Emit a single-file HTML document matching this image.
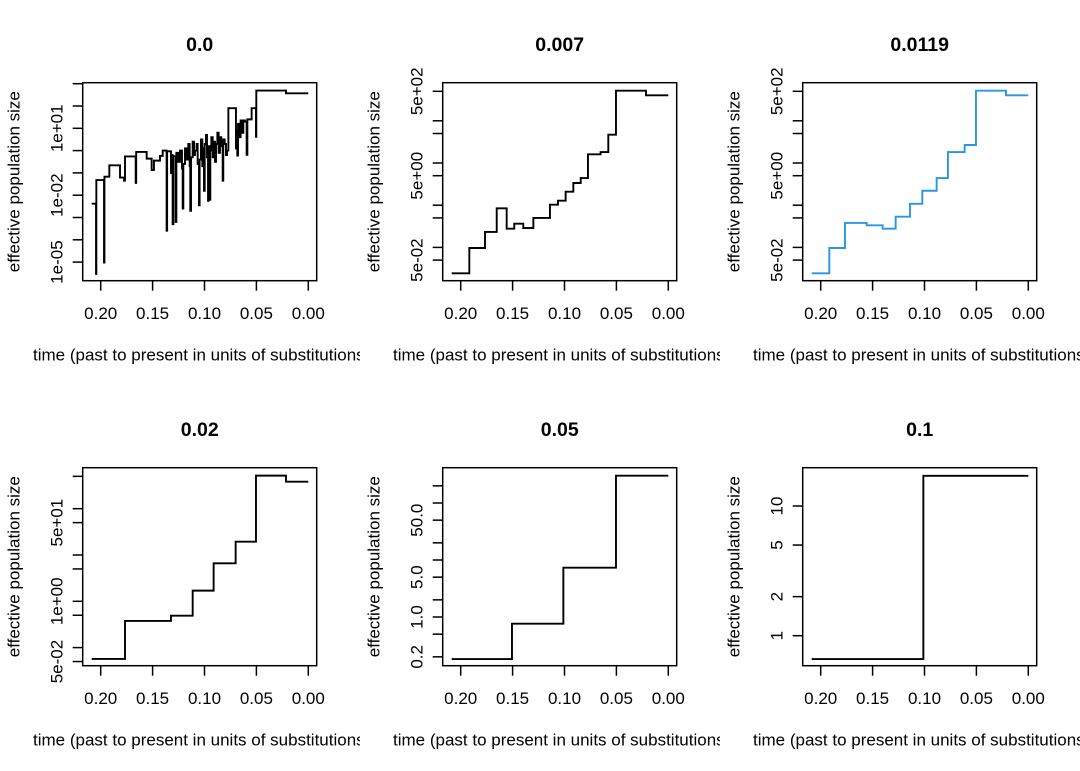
<!DOCTYPE html>
<html><head><meta charset="utf-8"><style>
html,body{margin:0;padding:0;background:#fff;}
svg{display:block;font-family:"Liberation Sans",Arial,sans-serif;}
</style></head><body>
<svg id="chart" width="1080" height="771" viewBox="0 0 1080 771" xmlns="http://www.w3.org/2000/svg">
<defs>
<clipPath id="c0"><rect x="0" y="0" width="360" height="771"/></clipPath>
<clipPath id="c1"><rect x="360" y="0" width="360" height="771"/></clipPath>
<clipPath id="c2"><rect x="720" y="0" width="360" height="771"/></clipPath>
</defs>
</svg>
<script>
// ---- data ----
const panelTitles = ["0.0", "0.007", "0.0119", "0.02", "0.05", "0.1"];
const xTickValues = [0.20, 0.15, 0.10, 0.05, 0.00];
const xTickLabels = ["0.20", "0.15", "0.10", "0.05", "0.00"];

// panel 1: step boundaries (time) and log10 effective population size
const times1 = [0.2087,0.2045,0.2042,0.1968,0.1964,0.1917,0.1814,0.1776,0.1766,0.1663,0.1658,0.1557,0.1509,0.1487,0.1429,0.1403,0.1365,0.1360,0.1323,0.1316,0.1307,0.1300,0.1278,0.1271,0.1252,0.1236,0.1217,0.1210,0.1204,0.1188,0.1172,0.1156,0.1143,0.1137,0.1130,0.1114,0.1101,0.1092,0.1076,0.1066,0.1053,0.1047,0.1034,0.1021,0.1011,0.1005,0.0998,0.0986,0.0976,0.0966,0.0960,0.0950,0.0944,0.0934,0.0921,0.0912,0.0899,0.0889,0.0876,0.0864,0.0851,0.0838,0.0825,0.0819,0.0806,0.0793,0.0783,0.0770,0.0697,0.0690,0.0684,0.0677,0.0665,0.0652,0.0639,0.0626,0.0610,0.0594,0.0587,0.0546,0.0504,0.0501,0.0215,0.0];
const logSize1 = [-2.38,-5.53,-1.32,-5.02,-1.17,-0.66,-1.21,-1.35,-0.26,-1.45,-0.06,-0.36,-0.87,-0.45,-0.24,0.0,-3.59,-0.03,-1.0,-0.2,-3.3,-0.25,-3.2,-0.1,-0.5,0.0,-0.8,-2.6,-0.6,0.1,-0.4,0.3,-0.7,-2.7,-0.3,0.4,-0.2,0.0,0.3,-0.6,-2.45,-0.4,0.5,-0.7,0.1,-1.8,0.3,0.7,-0.3,-2.25,0.2,-2.2,0.0,0.6,-0.3,0.4,-0.5,0.3,0.8,-0.1,0.6,0.2,-1.35,0.5,0.3,-0.2,0.0,1.9,0.1,0.9,-0.22,1.2,0.6,1.35,0.8,1.35,1.3,-0.19,1.4,1.9,0.62,2.69,2.57];

const times2 = [0.2087,0.1917,0.1766,0.1653,0.1557,0.1484,0.1397,0.1300,0.1140,0.1063,0.0989,0.0915,0.0844,0.0774,0.0652,0.0578,0.0504,0.0215,0.0];
const size2  = [0.0243,0.0968,0.232,0.844,0.277,0.365,0.288,0.5,1.03,1.28,2.09,3.36,4.4,16.1,18.2,46.8,517,402];

const times3 = [0.2087,0.1917,0.1766,0.1557,0.1403,0.1278,0.1140,0.1021,0.0883,0.0774,0.0613,0.0504,0.0215,0.0];
const size3  = [0.0243,0.0968,0.379,0.334,0.277,0.533,1.08,2.2,4.4,18.2,26.7,517,402];

const times4 = [0.2087,0.1766,0.1323,0.1114,0.0912,0.0700,0.0504,0.0215,0.0];
const size4  = [0.0568,0.376,0.49,1.70,6.62,19.4,518,384];

const times5 = [0.2087,0.1506,0.1011,0.0504,0.0];
const size5  = [0.183,0.764,7.33,301];

const times6 = [0.2087,0.1011,0.0];
const size6  = [0.661,17.1];

const yTicks1 = [1e-5,1e-4,1e-3,1e-2,1e-1,1,10,100,1000];
const yLabels1 = [[1e-5,"1e-05"],[1e-2,"1e-02"],[10,"1e+01"]];
const yTicks2 = [5e-2,1e-1,5e-1,1,5,10,50,100,500];
const yLabels2 = [[5e-2,"5e-02"],[5,"5e+00"],[500,"5e+02"]];
const yTicks4 = [5e-2,1e-1,5e-1,1,5,10,50,100,500];
const yLabels4 = [[5e-2,"5e-02"],[1,"1e+00"],[50,"5e+01"]];
const yTicks5 = [0.2,0.5,1,2,5,10,20,50,100,200];
const yLabels5 = [[0.2,"0.2"],[1,"1.0"],[5,"5.0"],[50,"50.0"]];
const yTicks6 = [1,2,5,10];
const yLabels6 = [[1,"1"],[2,"2"],[5,"5"],[10,"10"]];

// ---- layout ----
const NS = "http://www.w3.org/2000/svg";
const svg = document.getElementById("chart");
function mk(tag, attrs, parent){ const e=document.createElementNS(NS,tag); for(const k in attrs) e.setAttribute(k,attrs[k]); parent.appendChild(e); return e; }

const panels = [
  {times:times1, logv:logSize1, ticks:yTicks1, labels:yLabels1, y0:150.6, k:22.3, color:"#000"},
  {times:times2, vals:size2, ticks:yTicks2, labels:yLabels2, y0:205.2, k:42.2, color:"#000"},
  {times:times3, vals:size3, ticks:yTicks2, labels:yLabels2, y0:205.2, k:42.2, color:"#2b96e0"},
  {times:times4, vals:size4, ticks:yTicks4, labels:yLabels4, y0:601.3-385, k:46.3, color:"#000"},
  {times:times5, vals:size5, ticks:yTicks5, labels:yLabels5, y0:617-385, k:57, color:"#000"},
  {times:times6, vals:size6, ticks:yTicks6, labels:yLabels6, y0:635.7-385, k:129.7, color:"#000"}
];

panels.forEach((p, i) => {
  const col = i % 3, row = Math.floor(i / 3);
  const ox = col * 360, oy = row * 385;
  const xL = ox + 82.7, xR = ox + 316.7, yT = oy + 82.7, yB = oy + 280.7;
  const xScale = t => ox + 308.3 - t * 1038;
  const yScaleLog = L => oy + p.y0 - p.k * L;
  const yScale = v => yScaleLog(Math.log10(v));

  const g = mk("g", {"clip-path": `url(#c${col})`}, svg);
  
  

  const title = mk("text", {x:(xL+xR)/2, y:oy+51, "text-anchor":"middle", "font-size":"19.5", "font-weight":"bold", fill:"#000"}, g);
  title.textContent = panelTitles[i];
  
  

  const box = mk("rect", {x:xL, y:yT, width:xR-xL, height:yB-yT, fill:"none", stroke:"#000", "stroke-width":"1.5"}, g);
  
  

  const xAxis = mk("g", {}, g);
  
  
  xTickValues.forEach((t, j) => {
    const x = xScale(t);
    mk("line", {x1:x, x2:x, y1:yB, y2:yB+10, stroke:"#000", "stroke-width":"1.5"}, xAxis);
    const lb = mk("text", {x:x, y:yB+38.5, "text-anchor":"middle", "font-size":"17", fill:"#000"}, xAxis);
    lb.textContent = xTickLabels[j];
    
    
  });
  const xt = mk("text", {x:ox+33, y:oy+360.5, "font-size":"17", fill:"#000"}, g);
  xt.textContent = "time (past to present in units of substitutions)";
  
  

  const yAxis = mk("g", {}, g);
  
  
  p.ticks.forEach(v => {
    const y = yScale(v);
    mk("line", {x1:xL-10, x2:xL, y1:y, y2:y, stroke:"#000", "stroke-width":"1.5"}, yAxis);
  });
  p.labels.forEach(([v, s]) => {
    const y = yScale(v);
    const lb = mk("text", {x:0, y:0, "text-anchor":"middle", "font-size":"17", fill:"#000", transform:`translate(${ox+62.5},${y}) rotate(-90)`}, yAxis);
    lb.textContent = s;
    
    
  });
  const yt = mk("text", {x:0, y:0, "text-anchor":"middle", "font-size":"17", fill:"#000", transform:`translate(${ox+19.5},${(yT+yB)/2}) rotate(-90)`}, g);
  yt.textContent = "effective population size";
  
  

  const n = p.times.length - 1;
  const ly = j => p.logv ? yScaleLog(p.logv[j]) : yScale(p.vals[j]);
  let d = `M${xScale(p.times[0]).toFixed(2)},${ly(0).toFixed(2)}`;
  for (let j = 0; j < n; j++) {
    d += ` H${xScale(p.times[j+1]).toFixed(2)}`;
    if (j + 1 < n) d += ` V${ly(j+1).toFixed(2)}`;
  }
  const line = mk("path", {d:d, fill:"none", stroke:p.color, "stroke-width":"1.9", "stroke-linejoin":"miter"}, g);
  
  
});
</script>
</body></html>
